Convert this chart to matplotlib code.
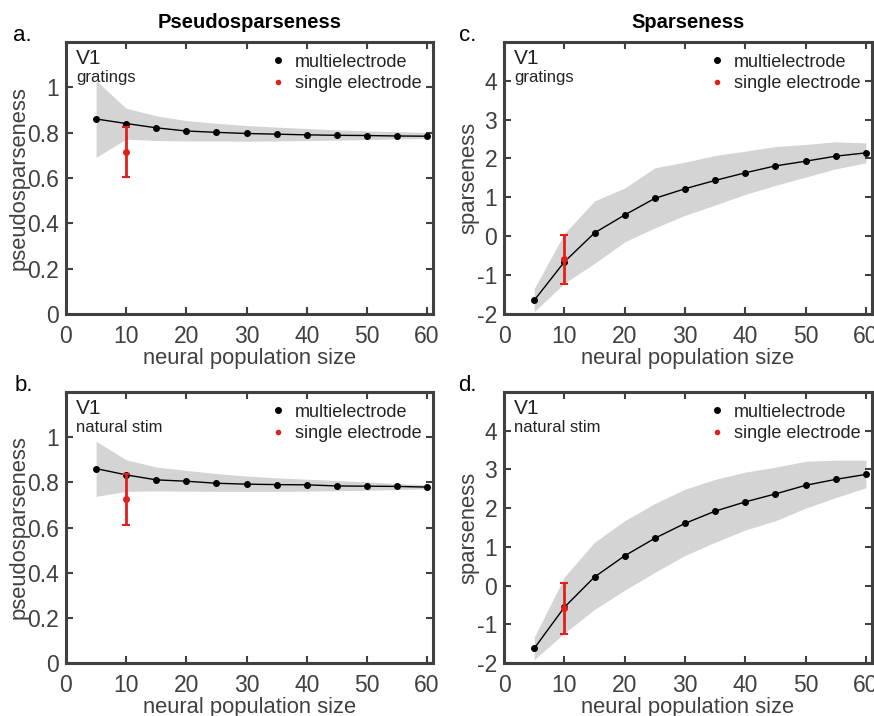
import matplotlib
matplotlib.use("Agg")
import matplotlib.pyplot as plt
import numpy as np

plt.rcParams['font.family'] = ['Liberation Sans', 'DejaVu Sans']

# population sizes sampled for every panel
pop_size = [5, 10, 15, 20, 25, 30, 35, 40, 45, 50, 55, 60]

# a. pseudosparseness, gratings
pseudo_grat_mean = [0.860, 0.840, 0.821, 0.807, 0.801, 0.796, 0.793, 0.790, 0.788, 0.787, 0.785, 0.784]
pseudo_grat_hi = [1.030, 0.907, 0.874, 0.853, 0.841, 0.831, 0.824, 0.818, 0.812, 0.807, 0.804, 0.801]
pseudo_grat_lo = [0.691, 0.771, 0.765, 0.763, 0.763, 0.762, 0.763, 0.765, 0.767, 0.769, 0.772, 0.774]
pseudo_grat_single = [0.716, 0.606, 0.826]  # mean, low, high at n=10

# b. pseudosparseness, natural stim
pseudo_nat_mean = [0.861, 0.833, 0.811, 0.805, 0.796, 0.792, 0.790, 0.789, 0.784, 0.783, 0.782, 0.779]
pseudo_nat_hi = [0.982, 0.900, 0.868, 0.853, 0.839, 0.828, 0.820, 0.814, 0.808, 0.802, 0.795, 0.789]
pseudo_nat_lo = [0.738, 0.760, 0.762, 0.761, 0.760, 0.760, 0.760, 0.761, 0.763, 0.765, 0.768, 0.771]
pseudo_nat_single = [0.728, 0.613, 0.839]

# c. sparseness, gratings
sparse_grat_mean = [-1.65, -0.66, 0.085, 0.547, 0.974, 1.222, 1.436, 1.632, 1.810, 1.930, 2.060, 2.145]
sparse_grat_hi = [-1.35, 0.07, 0.906, 1.24, 1.76, 1.906, 2.077, 2.188, 2.308, 2.36, 2.43, 2.40]
sparse_grat_lo = [-1.94, -1.21, -0.70, -0.145, 0.214, 0.538, 0.803, 1.077, 1.308, 1.521, 1.735, 1.889]
sparse_grat_single = [-0.59, -1.23, 0.026]

# d. sparseness, natural stim
sparse_nat_mean = [-1.624, -0.56, 0.222, 0.769, 1.222, 1.607, 1.923, 2.162, 2.368, 2.590, 2.744, 2.872]
sparse_nat_hi = [-1.333, 0.222, 1.12, 1.675, 2.12, 2.49, 2.744, 2.93, 3.06, 3.21, 3.24, 3.24]
sparse_nat_lo = [-1.915, -1.23, -0.615, -0.12, 0.342, 0.778, 1.12, 1.436, 1.675, 2.0, 2.274, 2.53]
sparse_nat_single = [-0.58, -1.25, 0.068]

single_n = 10

axis_col = '#404040'
red = '#e0201b'
band_col = '#d4d4d4'

fig = plt.figure(figsize=(8.74, 7.16), dpi=100)

panels = [
    # letter, letter x offset, position, mean, hi, lo, single, ylabel, ylim, yticks, stim, title
    ('a.', -0.145, [0.0755, 0.5615, 0.42, 0.38], pseudo_grat_mean, pseudo_grat_hi, pseudo_grat_lo,
     pseudo_grat_single, 'pseudosparseness', (0, 1.2), [0, 0.2, 0.4, 0.6, 0.8, 1],
     'gratings', 'Pseudosparseness'),
    ('b.', -0.14, [0.0755, 0.074, 0.42, 0.3785], pseudo_nat_mean, pseudo_nat_hi, pseudo_nat_lo,
     pseudo_nat_single, 'pseudosparseness', (0, 1.2), [0, 0.2, 0.4, 0.6, 0.8, 1],
     'natural stim', None),
    ('c.', -0.122, [0.5767, 0.5615, 0.421, 0.38], sparse_grat_mean, sparse_grat_hi, sparse_grat_lo,
     sparse_grat_single, 'sparseness', (-2, 5), [-2, -1, 0, 1, 2, 3, 4],
     'gratings', 'Sparseness'),
    ('d.', -0.125, [0.5767, 0.074, 0.421, 0.3785], sparse_nat_mean, sparse_nat_hi, sparse_nat_lo,
     sparse_nat_single, 'sparseness', (-2, 5), [-2, -1, 0, 1, 2, 3, 4],
     'natural stim', None),
]

for letter, lx, pos, mean, hi, lo, single, ylabel, ylim, yticks, stim, title in panels:
    ax = fig.add_axes(pos)
    ax.fill_between(pop_size, lo, hi, color=band_col, linewidth=0, zorder=1)
    ax.plot(pop_size, mean, color='k', linewidth=1.0, zorder=2)
    ax.plot(pop_size, mean, 'o', color='k', markersize=4, zorder=3, label='multielectrode')
    m, low, high = single
    ax.errorbar([single_n], [m], yerr=[[m - low], [high - m]], fmt='o', color=red,
                markersize=4, elinewidth=2, capsize=3, capthick=1.5, zorder=4)
    ax.plot([], [], 'o', color=red, markersize=3, label='single electrode')

    ax.set_xlim(0, 61)
    ax.set_ylim(*ylim)
    ax.set_xticks([0, 10, 20, 30, 40, 50, 60])
    ax.set_yticks(yticks)
    ax.set_yticklabels(['%g' % t for t in yticks])
    ax.tick_params(direction='in', length=5, width=1.5, color=axis_col, labelcolor=axis_col,
                   labelsize=16.5, top=True, right=True, pad=5)
    ax.tick_params(axis='x', pad=8)
    for s in ax.spines.values():
        s.set_color(axis_col)
        s.set_linewidth(2.2)
    ax.set_xlabel('neural population size', fontsize=15.8, color=axis_col, labelpad=0)
    ax.set_ylabel(ylabel, fontsize=15.8, color=axis_col, labelpad=-2)

    ax.text(0.028, 0.975, 'V1', transform=ax.transAxes, fontsize=15, color='#222222',
            va='top', ha='left')
    ax.text(0.028, 0.898, stim, transform=ax.transAxes, fontsize=12, color='#222222',
            va='top', ha='left')
    leg = ax.legend(loc='upper right', frameon=False, fontsize=13, handlelength=0.8,
                    handletextpad=0.5, borderaxespad=0.25, labelspacing=0.25)
    for t in leg.get_texts():
        t.set_color('#222222')

    ax.text(lx, 1.003, letter, transform=ax.transAxes, fontsize=16, color='k',
            va='baseline', ha='left')
    if title:
        ax.set_title(title, fontsize=14.5, fontweight='bold', pad=10)

fig.savefig('out.png', dpi=100)
